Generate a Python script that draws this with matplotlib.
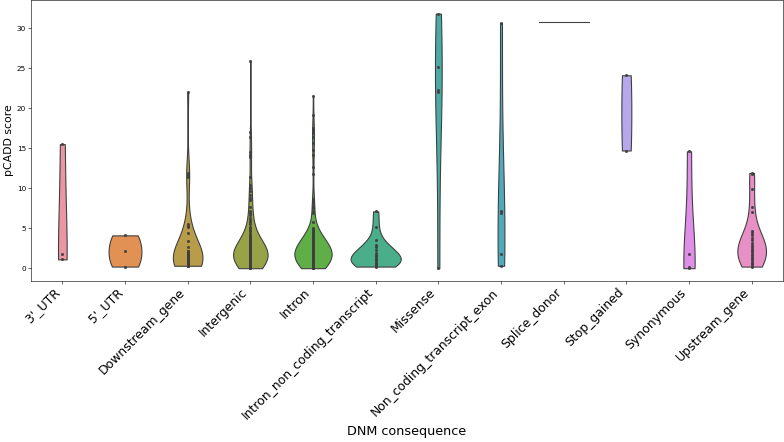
import matplotlib
matplotlib.use("Agg")
import matplotlib.pyplot as plt
import numpy as np
import pandas as pd
import seaborn as sns

# categories on the x axis
categories = ["3'_UTR", "5'_UTR", "Downstream_gene", "Intergenic", "Intron",
              "Intron_non_coding_transcript", "Missense", "Non_coding_transcript_exon",
              "Splice_donor", "Stop_gained", "Synonymous", "Upstream_gene"]

# pCADD scores, one list per consequence
utr3 = [1.1, 1.8, 15.5]
utr5 = [0.2, 2.1, 4.1]
downstream_gene = [22.0, 11.9, 11.6, 11.4,
                   5.5, 5.3, 5.2, 4.4, 3.4, 2.6, 2.2, 2.1, 2.0, 1.9, 1.8, 1.8,
                   1.7, 1.6, 1.5, 1.5, 1.4, 1.3, 1.2, 1.2, 1.1, 1.0, 0.9, 0.9,
                   0.8, 0.7, 0.6, 0.6, 0.5, 0.5, 0.4, 0.4, 0.3, 0.3, 0.3]
intergenic = [25.9, 17.0, 16.4, 14.5, 14.2, 13.9, 11.4, 10.4, 10.0, 9.6, 9.2, 8.8,
              8.5, 7.7,
              7.2, 6.9, 6.6, 6.3, 6.0, 5.8, 5.5, 5.2,
              5.0, 4.8, 4.6, 4.4, 4.2, 4.0, 3.9, 3.8, 3.7, 3.6, 3.5, 3.4, 3.3, 3.2,
              3.1, 3.0,
              2.9, 2.9, 2.9, 2.8, 2.8, 2.8, 2.7, 2.7, 2.7, 2.6, 2.6, 2.6,
              2.5, 2.5, 2.5, 2.4, 2.4, 2.4, 2.3, 2.3, 2.3, 2.2, 2.2, 2.2,
              2.1, 2.1, 2.1, 2.0, 2.0, 2.0, 1.9, 1.9, 1.9, 1.8, 1.8, 1.8,
              1.7, 1.7, 1.7, 1.6, 1.6, 1.6, 1.5, 1.5, 1.5, 1.4, 1.4, 1.4,
              1.3, 1.3, 1.3, 1.2, 1.2, 1.2, 1.1, 1.1, 1.1, 1.0, 1.0, 1.0,
              0.9, 0.9, 0.9, 0.8, 0.8, 0.8, 0.7, 0.7, 0.7, 0.6, 0.6, 0.6,
              0.5, 0.5, 0.5, 0.4, 0.4, 0.4, 0.3, 0.3, 0.3, 0.2, 0.2, 0.2,
              0.1, 0.1, 0.1, 0.0, 0.0, 0.0]
intron = [21.5, 19.1, 17.5, 17.2, 16.9, 16.4, 15.6, 14.8, 14.1, 12.7, 11.8,
          8.7, 8.4, 8.1, 7.8, 7.5, 7.2, 6.9, 5.8,
          5.0, 4.9, 4.8, 4.7, 4.6, 4.5, 4.4, 4.3, 4.2, 4.1, 4.0,
          3.9, 3.9, 3.8, 3.8, 3.7, 3.7, 3.6, 3.6, 3.5, 3.5,
          3.4, 3.4, 3.3, 3.3, 3.2, 3.2, 3.1, 3.1, 3.0, 3.0,
          2.9, 2.9, 2.9, 2.9, 2.8, 2.8, 2.8, 2.8, 2.7, 2.7, 2.7, 2.7,
          2.6, 2.6, 2.6, 2.6, 2.5, 2.5, 2.5, 2.5, 2.4, 2.4, 2.4, 2.4,
          2.3, 2.3, 2.3, 2.3, 2.2, 2.2, 2.2, 2.2, 2.1, 2.1, 2.1, 2.1,
          2.0, 2.0, 2.0, 2.0, 1.9, 1.9, 1.9, 1.9, 1.8, 1.8, 1.8, 1.8,
          1.7, 1.7, 1.7, 1.7, 1.6, 1.6, 1.6, 1.6, 1.5, 1.5, 1.5, 1.5,
          1.4, 1.4, 1.4, 1.4, 1.3, 1.3, 1.3, 1.3, 1.2, 1.2, 1.2, 1.2,
          1.1, 1.1, 1.1, 1.1, 1.0, 1.0, 1.0, 1.0, 0.9, 0.9, 0.9, 0.9,
          0.8, 0.8, 0.8, 0.8, 0.7, 0.7, 0.7, 0.7, 0.6, 0.6, 0.6, 0.6,
          0.5, 0.5, 0.5, 0.5, 0.4, 0.4, 0.4, 0.4, 0.3, 0.3, 0.3, 0.3,
          0.2, 0.2, 0.2, 0.2, 0.1, 0.1, 0.1, 0.1, 0.0, 0.0, 0.0, 0.0]
intron_non_coding = [7.1, 5.2, 3.5, 2.9, 2.6, 2.3, 1.9, 1.7, 1.5, 1.3, 1.2, 1.0,
                     0.8, 0.6, 0.5, 0.4, 0.3, 0.2]
missense = [0.0, 22.0, 22.3, 25.1, 31.8]
nc_transcript_exon = [0.3, 1.8, 6.9, 7.1, 30.6]
splice_donor = [30.8]
stop_gained = [14.7, 24.1]
synonymous = [0.0, 0.1, 1.8, 14.6]
upstream_gene = [11.9, 11.8, 9.9, 7.7, 7.0,
                 4.7, 4.4, 4.1, 3.8, 3.5, 3.2, 2.9, 2.7, 2.5, 2.3, 2.1, 1.9,
                 1.7, 1.5, 1.3, 1.1, 0.9, 0.7, 0.5, 0.3, 0.2]

values = [utr3, utr5, downstream_gene, intergenic, intron, intron_non_coding,
          missense, nc_transcript_exon, splice_donor, stop_gained, synonymous,
          upstream_gene]

df = pd.DataFrame({
    "consequence": np.repeat(categories, [len(v) for v in values]),
    "score": np.concatenate(values),
})

gray = "#3f3f3f"
palette = sns.husl_palette(len(categories), l=.7)

DPI = 784 / 15
fig = plt.figure(figsize=(15, 442 / DPI), dpi=DPI)
ax = fig.add_axes([31 / 784, 161 / 442, 752 / 784, 281 / 442])

sns.violinplot(data=df, x="consequence", y="score", hue="consequence",
               order=categories, hue_order=categories, palette=palette,
               saturation=0.75, cut=0, inner="point", density_norm="area",
               common_norm=True, linewidth=1.5, linecolor=gray, legend=False, ax=ax)

ax.set_xlim(-0.5, len(categories) - 0.5)
ax.set_ylim(-1.6, 33.5)
ax.set_xlabel("DNM consequence", fontsize=17.5, labelpad=3)
ax.set_ylabel("pCADD score", fontsize=15)
plt.setp(ax.get_xticklabels(), rotation=45, ha="right", fontsize=17)

fig.savefig("out.png", dpi=DPI)
